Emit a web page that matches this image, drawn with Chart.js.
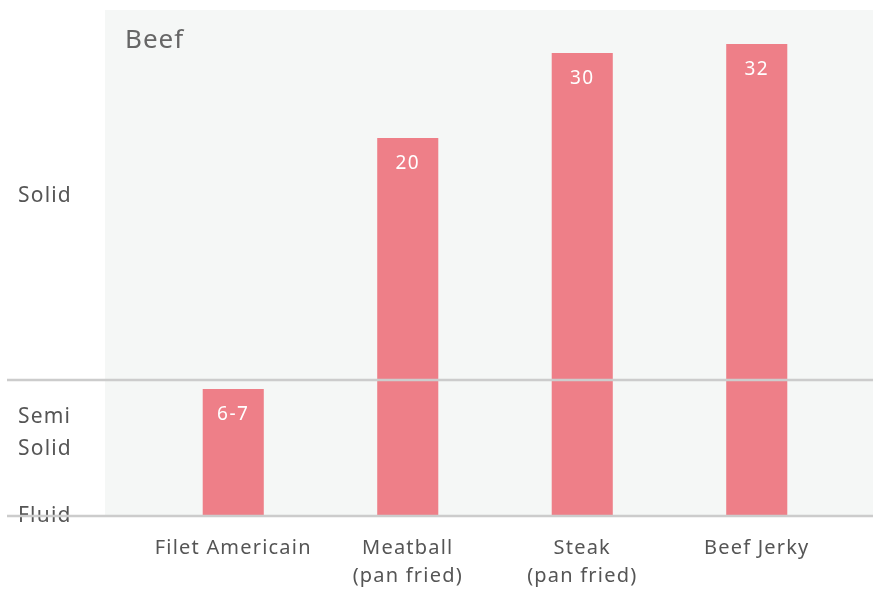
<!DOCTYPE html>
<html>
<head>
<meta charset="utf-8">
<script src="https://cdn.jsdelivr.net/npm/chart.js@4/dist/chart.umd.min.js"></script>
<style>
  html, body { margin: 0; padding: 0; background: #ffffff; }
  #wrap { width: 873px; height: 589px; }
</style>
</head>
<body>
<div id="wrap"><canvas id="beef"></canvas></div>
<script>
// categories and values
const categories = [["Filet Americain"], ["Meatball", "(pan fried)"], ["Steak", "(pan fried)"], ["Beef Jerky"]];
const valueLabels = ["6-7", "20", "30", "32"];
// bar heights on the (non numeric) texture axis, 0 = fluid, 100 = top of panel
const barHeights = [25.1, 74.7, 91.5, 93.3];
// texture bands on the y axis
const textureTicks = [0, 16.4, 63.2];
const textureLabels = ["Fluid", ["Semi", "Solid"], "Solid"];
const semiSolidLimit = 26.9;

const fontFamily = "'Noto Sans', 'DejaVu Sans', sans-serif";

const panelPlugin = {
    id: 'panel',
    beforeInit: function(chart) {
        chart.ctx.letterSpacing = "1.2px";
    },
    beforeDraw: function(chart) {
        const {ctx, chartArea, width} = chart;
        ctx.save();
        // light panel behind the bars
        ctx.fillStyle = "#f5f7f6";
        ctx.fillRect(chartArea.left - 41, chartArea.top, width - (chartArea.left - 41), chartArea.bottom - chartArea.top);
        ctx.restore();
        ctx.letterSpacing = "1.2px";
    },
    afterDatasetsDraw: function(chart) {
        const {ctx, chartArea, width} = chart;
        const y = chart.scales.y;
        ctx.save();
        // band lines: semi solid limit and fluid baseline
        ctx.strokeStyle = "#cccccc";
        ctx.lineWidth = 2.5;
        [semiSolidLimit, 0].forEach(function(v) {
            const py = y.getPixelForValue(v);
            ctx.beginPath();
            ctx.moveTo(7, py);
            ctx.lineTo(width, py);
            ctx.stroke();
        });

        // title inside the panel
        ctx.letterSpacing = "1px";
        ctx.fillStyle = "#666666";
        ctx.font = `26px ${fontFamily}`;
        ctx.textAlign = "left";
        ctx.textBaseline = "middle";
        ctx.fillText("Beef", chartArea.left - 21, chartArea.top + 31);

        // value labels inside the bars
        const meta = chart.getDatasetMeta(0);
        ctx.letterSpacing = "1.5px";
        ctx.fillStyle = "#ffffff";
        ctx.font = `19px ${fontFamily}`;
        ctx.textAlign = "center";
        meta.data.forEach(function(bar, i) {
            ctx.fillText(valueLabels[i], bar.x, bar.y + 26);
        });
        ctx.restore();
    }
};

new Chart(document.getElementById("beef"), {
    type: "bar",
    data: {
        labels: categories,
        datasets: [{
            label: "Beef",
            data: barHeights,
            backgroundColor: "#ee7f88",
            borderWidth: 0,
            categoryPercentage: 1,
            barPercentage: 0.35
        }]
    },
    options: {
        responsive: true,
        maintainAspectRatio: false,
        animation: false,
        layout: {
            padding: {left: 18, right: 29, top: 10, bottom: 0}
        },
        plugins: {
            legend: {display: false},
            tooltip: {enabled: false}
        },
        scales: {
            x: {
                grid: {display: false, drawTicks: false},
                border: {display: false},
                afterFit: function(scale) {
                    scale.height = 73;
                },
                ticks: {
                    color: "#555555",
                    padding: 18,
                    font: {family: fontFamily, size: 20, lineHeight: 1.4},
                    maxRotation: 0
                }
            },
            y: {
                min: 0,
                max: 100,
                grid: {display: false, drawTicks: false},
                border: {display: false},
                afterBuildTicks: function(scale) {
                    scale.ticks = textureTicks.map(function(v) { return {value: v}; });
                },
                afterFit: function(scale) {
                    scale.width = 128;
                    scale.paddingTop = 0;
                    scale.paddingBottom = 0;
                },
                ticks: {
                    color: "#555555",
                    crossAlign: "far",
                    font: {family: fontFamily, size: 21, lineHeight: 1.5},
                    callback: function(value, index) {
                        return textureLabels[index];
                    }
                }
            }
        }
    },
    plugins: [panelPlugin]
});
</script>
</body>
</html>
